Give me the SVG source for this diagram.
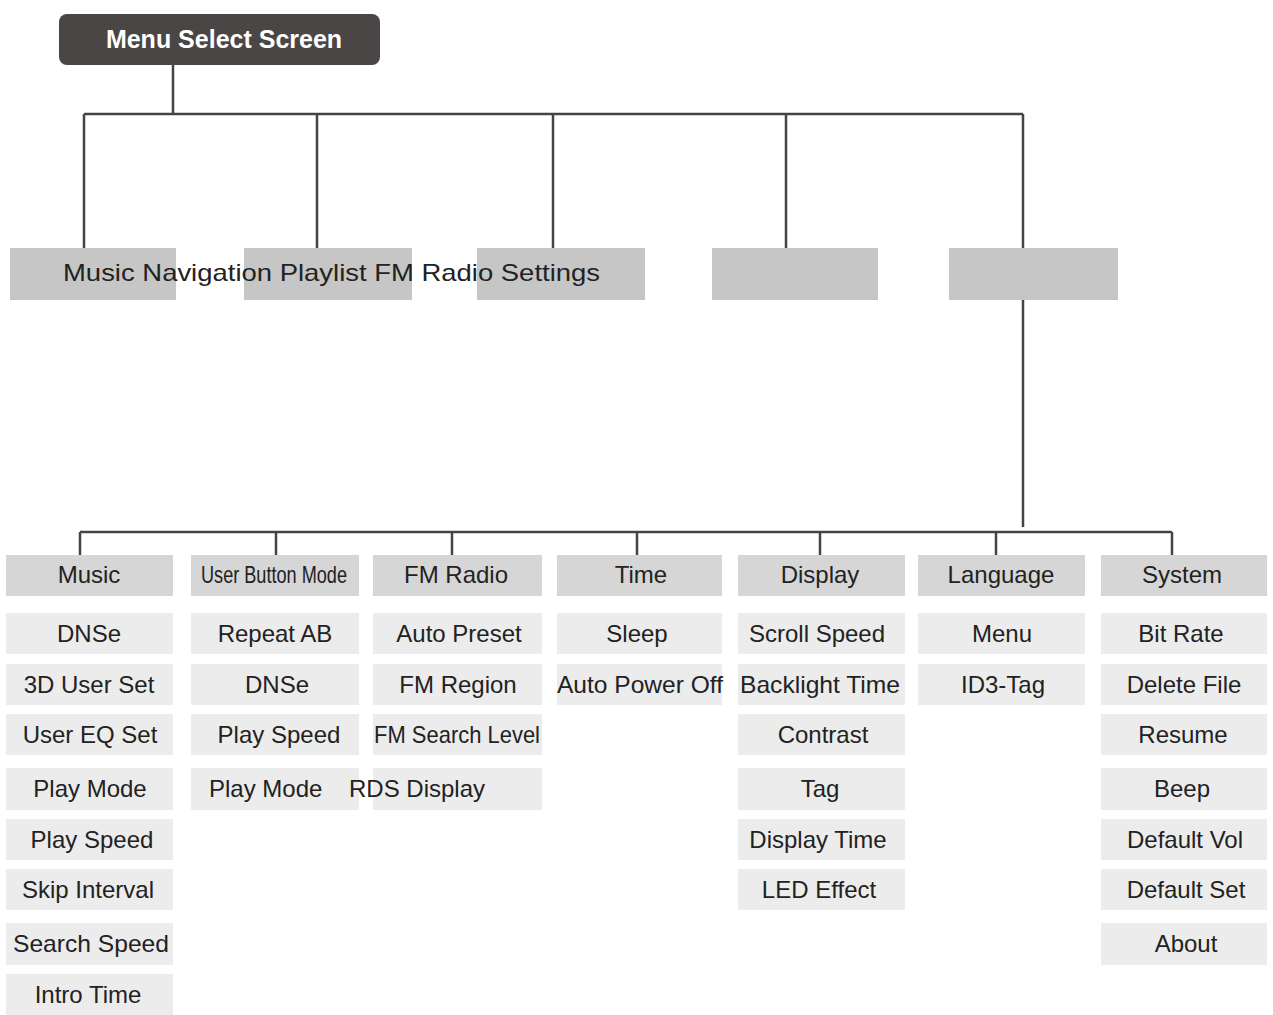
<svg xmlns="http://www.w3.org/2000/svg" width="1273" height="1015" viewBox="0 0 1273 1015">
<style>
text{font-family:"Liberation Sans",Arial,sans-serif;font-size:24px;fill:#222;text-anchor:middle}
.h{fill:#d6d6d6}.i{fill:#ececec}.t{fill:#c6c6c6}
.c{stroke:#444;stroke-width:2.5;fill:none}
</style>
<rect width="1273" height="1015" fill="#fff"/>
<g id="connectors" class="c">
<path d="M173 65V114M84 114H1023M84 114V248M317 114V248M553 114V248M786 114V248M1023 114V248M1023 300V527"/>
<path d="M80 532H1172M80 532V555M276 532V555M452 532V555M637 532V555M820 532V555M996 532V555M1172 532V555"/>
</g>
<g id="root"><rect x="59" y="14" width="321" height="51" rx="8" fill="#4a4646"/><text x="224" y="48" style="fill:#fff;font-weight:bold;font-size:25px">Menu Select Screen</text></g>
<g id="top">
<rect class="t" x="10" y="248" width="166" height="52"/><rect class="t" x="244" y="248" width="168" height="52"/><rect class="t" x="477" y="248" width="168" height="52"/><rect class="t" x="712" y="248" width="166" height="52"/><rect class="t" x="949" y="248" width="169" height="52"/>
<text x="63" y="281" style="text-anchor:start" textLength="537" lengthAdjust="spacingAndGlyphs">Music Navigation Playlist FM Radio Settings</text>
</g>
<g id="col-music">
<rect class="h" x="6" y="555" width="167" height="41"/><text x="89" y="583">Music</text>
<rect class="i" x="6" y="613" width="167" height="41"/><text x="89" y="642">DNSe</text>
<rect class="i" x="6" y="664" width="167" height="41"/><text x="89" y="693">3D User Set</text>
<rect class="i" x="6" y="714" width="167" height="41"/><text x="90" y="743">User EQ Set</text>
<rect class="i" x="6" y="768" width="167" height="42"/><text x="90" y="797">Play Mode</text>
<rect class="i" x="6" y="819" width="167" height="41"/><text x="92" y="848">Play Speed</text>
<rect class="i" x="6" y="869" width="167" height="41"/><text x="88" y="898">Skip Interval</text>
<rect class="i" x="6" y="923" width="167" height="42"/><text x="91" y="952" textLength="156" lengthAdjust="spacingAndGlyphs">Search Speed</text>
<rect class="i" x="6" y="974" width="167" height="41"/><text x="88" y="1003">Intro Time</text>
</g>
<g id="col-ubm">
<rect class="h" x="191" y="555" width="168" height="41"/><text x="274" y="583" textLength="146" lengthAdjust="spacingAndGlyphs">User Button Mode</text>
<rect class="i" x="191" y="613" width="168" height="41"/><text x="275" y="642">Repeat AB</text>
<rect class="i" x="191" y="664" width="168" height="41"/><text x="277" y="693">DNSe</text>
<rect class="i" x="191" y="714" width="168" height="41"/><text x="279" y="743">Play Speed</text>
<rect class="i" x="191" y="768" width="168" height="42"/><text x="209" y="797" style="text-anchor:start">Play Mode</text>
</g>
<g id="col-fm">
<rect class="h" x="373" y="555" width="169" height="41"/><text x="456" y="583">FM Radio</text>
<rect class="i" x="373" y="613" width="169" height="41"/><text x="459" y="642">Auto Preset</text>
<rect class="i" x="373" y="664" width="169" height="41"/><text x="458" y="693">FM Region</text>
<rect class="i" x="373" y="714" width="169" height="41"/><text x="457" y="743" textLength="166" lengthAdjust="spacingAndGlyphs">FM Search Level</text>
<rect class="i" x="373" y="768" width="169" height="42"/><text x="349" y="797" style="text-anchor:start">RDS Display</text>
</g>
<g id="col-time">
<rect class="h" x="557" y="555" width="165" height="41"/><text x="641" y="583">Time</text>
<rect class="i" x="557" y="613" width="165" height="41"/><text x="637" y="642">Sleep</text>
<rect class="i" x="557" y="664" width="165" height="41"/><text x="640" y="693" textLength="166" lengthAdjust="spacingAndGlyphs">Auto Power Off</text>
</g>
<g id="col-display">
<rect class="h" x="738" y="555" width="167" height="41"/><text x="820" y="583">Display</text>
<rect class="i" x="738" y="613" width="167" height="41"/><text x="817" y="642">Scroll Speed</text>
<rect class="i" x="738" y="664" width="167" height="41"/><text x="820" y="693" textLength="160" lengthAdjust="spacingAndGlyphs">Backlight Time</text>
<rect class="i" x="738" y="714" width="167" height="41"/><text x="823" y="743">Contrast</text>
<rect class="i" x="738" y="768" width="167" height="42"/><text x="820" y="797">Tag</text>
<rect class="i" x="738" y="819" width="167" height="41"/><text x="818" y="848">Display Time</text>
<rect class="i" x="738" y="869" width="167" height="41"/><text x="819" y="898">LED Effect</text>
</g>
<g id="col-language">
<rect class="h" x="918" y="555" width="167" height="41"/><text x="1001" y="583">Language</text>
<rect class="i" x="918" y="613" width="167" height="41"/><text x="1002" y="642">Menu</text>
<rect class="i" x="918" y="664" width="167" height="41"/><text x="1003" y="693">ID3-Tag</text>
</g>
<g id="col-system">
<rect class="h" x="1101" y="555" width="166" height="41"/><text x="1182" y="583">System</text>
<rect class="i" x="1101" y="613" width="166" height="41"/><text x="1181" y="642">Bit Rate</text>
<rect class="i" x="1101" y="664" width="166" height="41"/><text x="1184" y="693">Delete File</text>
<rect class="i" x="1101" y="714" width="166" height="41"/><text x="1183" y="743">Resume</text>
<rect class="i" x="1101" y="768" width="166" height="42"/><text x="1182" y="797">Beep</text>
<rect class="i" x="1101" y="819" width="166" height="41"/><text x="1185" y="848">Default Vol</text>
<rect class="i" x="1101" y="869" width="166" height="41"/><text x="1186" y="898">Default Set</text>
<rect class="i" x="1101" y="923" width="166" height="42"/><text x="1186" y="952">About</text>
</g>
</svg>
